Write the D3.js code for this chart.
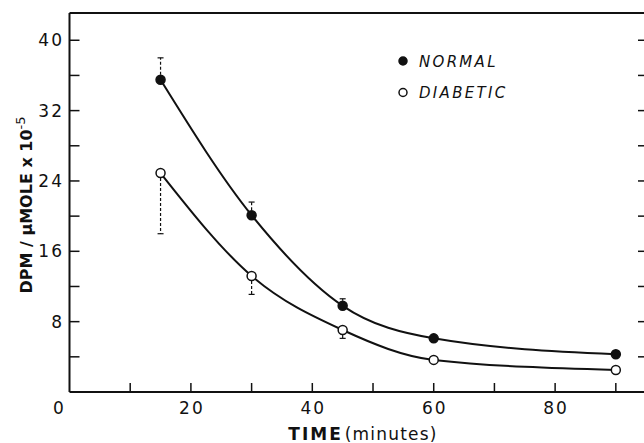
<!DOCTYPE html>
<html><head><meta charset="utf-8">
<script src="https://cdn.jsdelivr.net/npm/d3@7"></script>
<style>
body{margin:0;background:#fff;}
svg{display:block;}
text{font-family:"DejaVu Sans",sans-serif;fill:#111;}
</style></head>
<body>
<svg id="c" width="644" height="443"></svg>
<script>
// data
const times = [15, 30, 45, 60, 90];
const normal = [35.5, 20.1, 9.8, 6.1, 4.3];
const normalErr = [2.5, 1.5, 0.8, 0, 0];      // upward error bars
const diabetic = [24.9, 13.2, 7.05, 3.65, 2.5];
const diabeticErr = [6.9, 2.1, 0.95, 0, 0];  // downward error bars
const yTicks = [0, 4, 8, 12, 16, 20, 24, 28, 32, 36, 40];
const yLabels = [8, 16, 24, 32, 40];
const xTicks = [10, 20, 30, 40, 50, 60, 70, 80, 90];
const xLabels = [0, 20, 40, 60, 80];

const svg = d3.select("#c");
const x = d3.scaleLinear().domain([0, 95.3]).range([69.5, 648]);
const y = d3.scaleLinear().domain([0, 43.1]).range([392, 13]);
const ink = "#111";

// frame
const g = svg.append("g");
g.append("line").attr("x1", x(0)).attr("x2", 648).attr("y1", y(0)).attr("y2", y(0)).attr("stroke", ink).attr("stroke-width", 2);
g.append("line").attr("x1", x(0)).attr("x2", x(0)).attr("y1", y(0)).attr("y2", 13).attr("stroke", ink).attr("stroke-width", 2);
g.append("line").attr("x1", x(0)).attr("x2", 648).attr("y1", 13).attr("y2", 13).attr("stroke", ink).attr("stroke-width", 2);
g.append("line").attr("x1", 648).attr("x2", 648).attr("y1", 13).attr("y2", y(0)).attr("stroke", ink).attr("stroke-width", 2);

// y ticks (inward, both sides)
g.selectAll(".yt").data(yTicks.filter(d => d > 0)).enter().append("line")
  .attr("x1", x(0)).attr("x2", x(0) + 10).attr("y1", d => y(d)).attr("y2", d => y(d))
  .attr("stroke", ink).attr("stroke-width", 1.5);
g.selectAll(".ytr").data(yTicks.filter(d => d > 0)).enter().append("line")
  .attr("x1", 638).attr("x2", 648).attr("y1", d => y(d)).attr("y2", d => y(d))
  .attr("stroke", ink).attr("stroke-width", 1.5);
g.selectAll(".yl").data(yLabels).enter().append("text")
  .attr("x", 64).attr("y", d => y(d) + 6).attr("text-anchor", "end")
  .attr("font-size", 17).attr("letter-spacing", 2).text(d => d);

// x ticks (inward)
g.selectAll(".xt").data(xTicks).enter().append("line")
  .attr("x1", d => x(d)).attr("x2", d => x(d)).attr("y1", y(0)).attr("y2", y(0) - 9)
  .attr("stroke", ink).attr("stroke-width", 1.5);
g.selectAll(".xl").data(xLabels).enter().append("text")
  .attr("x", d => (d === 0 ? x(d) - 11 : x(d)) + 1).attr("y", 414).attr("text-anchor", "middle")
  .attr("font-size", 17).attr("letter-spacing", 2).text(d => d);

// axis titles
const xt = g.append("text").attr("x", 363).attr("y", 440).attr("text-anchor", "middle").attr("font-size", 17);
xt.append("tspan").attr("letter-spacing", 2).attr("font-weight", "bold").text("TIME");
xt.append("tspan").attr("letter-spacing", 1.2).attr("dx", 2).text("(minutes)");

const yt = g.append("text").attr("transform", "translate(32,205) rotate(-90)").attr("text-anchor", "middle")
  .attr("font-size", 16).attr("font-weight", "bold");
yt.append("tspan").text("DPM / μMOLE x 10");
yt.append("tspan").attr("font-size", 13).attr("dy", -7).attr("font-weight", "normal").text("-5");

// curves
const line = d3.line().x(d => x(d[0])).y(d => y(d[1])).curve(d3.curveMonotoneX);
const series = [
  {vals: normal, err: normalErr, dir: 1, fill: ink},
  {vals: diabetic, err: diabeticErr, dir: -1, fill: "#fff"}
];
series.forEach(s => {
  const pts = times.map((t, i) => [t, s.vals[i]]);
  g.append("path").attr("d", line(pts)).attr("fill", "none").attr("stroke", ink).attr("stroke-width", 2);
  // error bars
  times.forEach((t, i) => {
    if (!s.err[i]) return;
    const ye = s.vals[i] + s.dir * s.err[i];
    g.append("line").attr("x1", x(t)).attr("x2", x(t)).attr("y1", y(s.vals[i])).attr("y2", y(ye))
      .attr("stroke", ink).attr("stroke-width", 1.2).attr("stroke-dasharray", "3,2");
    g.append("line").attr("x1", x(t) - 3).attr("x2", x(t) + 3).attr("y1", y(ye)).attr("y2", y(ye))
      .attr("stroke", ink).attr("stroke-width", 1.2);
  });
  g.selectAll(null).data(pts).enter().append("circle")
    .attr("cx", d => x(d[0])).attr("cy", d => y(d[1])).attr("r", 4.5)
    .attr("fill", s.fill).attr("stroke", ink).attr("stroke-width", 1.5);
});

// legend
const legend = [{name: "NORMAL", fill: ink}, {name: "DIABETIC", fill: "#fff"}];
legend.forEach((l, i) => {
  const cy = 61 + i * 31.5;
  g.append("circle").attr("cx", 403).attr("cy", cy).attr("r", 4).attr("fill", l.fill).attr("stroke", ink).attr("stroke-width", 1.5);
  g.append("text").attr("x", 419).attr("y", cy + 5.5).attr("font-size", 15).attr("font-style", "italic")
    .attr("letter-spacing", 2.3).text(l.name);
});
</script>
</body></html>
